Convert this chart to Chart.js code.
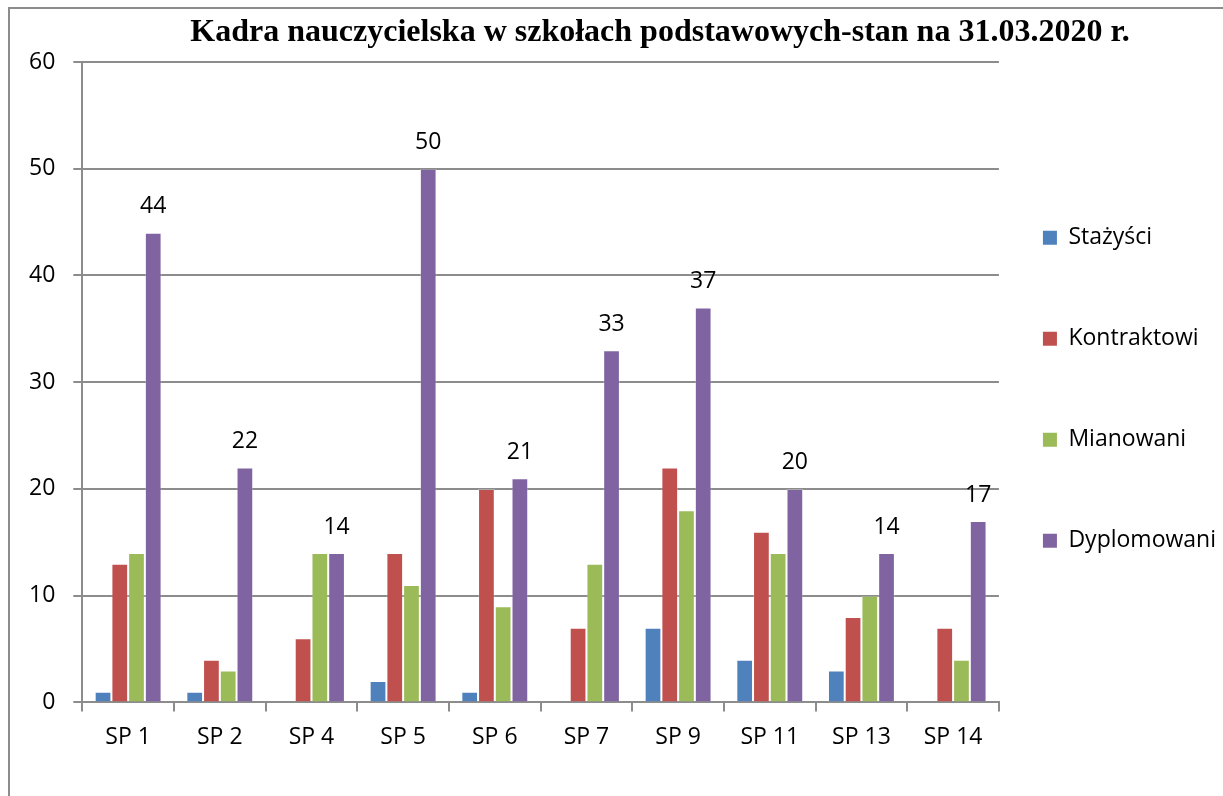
<!DOCTYPE html>
<html>
<head>
<meta charset="utf-8">
<script src="https://cdn.jsdelivr.net/npm/chart.js@4"></script>
<style>
    body { margin: 0; background: #fff; overflow: hidden; }
    #frame { position: absolute; left: 8px; top: 7px; width: 1400px; height: 900px; border: 2px solid #8c8c8c; }
    #wrap { position: absolute; left: 0; top: 0; width: 1223px; height: 796px; }
</style>
</head>
<body>
<div id="frame"></div>
<div id="wrap"><canvas id="teacherChart"></canvas></div>
<script>
const schools = ['SP 1', 'SP 2', 'SP 4', 'SP 5', 'SP 6', 'SP 7', 'SP 9', 'SP 11', 'SP 13', 'SP 14'];
const stazysci = [1, 1, 0, 2, 1, 0, 7, 4, 3, 0];
const kontraktowi = [13, 4, 6, 14, 20, 7, 22, 16, 8, 7];
const mianowani = [14, 3, 14, 11, 9, 13, 18, 14, 10, 4];
const dyplomowani = [44, 22, 14, 50, 21, 33, 37, 20, 14, 17];
const yTicks = [0, 10, 20, 30, 40, 50, 60];

const titleText = 'Kadra nauczycielska w szkołach podstawowych-stan na 31.03.2020 r.';
const gridColor = '#8c8c8c';
const font = 'Open Sans';

// title drawn by hand so it can sit off-centre like the original
const titlePlugin = {
    id: 'titlePlugin',
    afterDraw(chart) {
        const c = chart.ctx;
        c.save();
        c.font = 'bold 32px "Liberation Serif"';
        c.fillStyle = '#000';
        c.textAlign = 'center';
        c.textBaseline = 'middle';
        c.fillText(titleText, 660, 33);
        c.restore();
    }
};

// value labels only above the Dyplomowani bars
const valueLabels = {
    id: 'valueLabels',
    afterDatasetsDraw(chart) {
        const c = chart.ctx;
        const meta = chart.getDatasetMeta(3);
        c.save();
        c.font = '23px "' + font + '"';
        c.fillStyle = '#000';
        c.textAlign = 'center';
        c.textBaseline = 'middle';
        meta.data.forEach((bar, i) => {
            c.fillText(dyplomowani[i], bar.x, bar.y - 26);
        });
        c.restore();
    }
};

const ctx = document.getElementById('teacherChart').getContext('2d');
const myChart = new Chart(ctx, {
    type: 'bar',
    data: {
        labels: schools,
        datasets: [
            { label: 'Stażyści', data: stazysci, backgroundColor: '#4f81bd' },
            { label: 'Kontraktowi', data: kontraktowi, backgroundColor: '#c0504d' },
            { label: 'Mianowani', data: mianowani, backgroundColor: '#9bbb59' },
            { label: 'Dyplomowani', data: dyplomowani, backgroundColor: '#8064a2' }
        ]
    },
    options: {
        responsive: true,
        maintainAspectRatio: false,
        animation: false,
        datasets: {
            bar: {
                categoryPercentage: 0.73,
                barPercentage: 1.0,
                borderWidth: 1,
                borderColor: 'rgba(255, 255, 255, 0.25)'
            }
        },
        layout: {
            padding: { top: 62, left: 11, right: -3, bottom: 33 }
        },
        scales: {
            x: {
                grid: { drawOnChartArea: false, color: gridColor, lineWidth: 2, tickLength: 9 },
                border: { color: gridColor, width: 2 },
                ticks: { color: '#000', font: { family: font, size: 23 }, padding: 12 }
            },
            y: {
                min: 0,
                max: 60,
                afterBuildTicks: (axis) => { axis.ticks = yTicks.map(v => ({ value: v })); },
                grid: { color: gridColor, lineWidth: 2, tickLength: 9 },
                border: { color: gridColor, width: 2 },
                ticks: { color: '#000', font: { family: font, size: 23 }, padding: 18 }
            }
        },
        plugins: {
            title: { display: false },
            tooltip: { enabled: false },
            legend: {
                position: 'right',
                fullSize: false,
                // empty title only pushes the items down
                title: { display: true, text: '', padding: 0, font: { size: 20, lineHeight: '48px' } },
                labels: {
                    color: '#000',
                    boxWidth: 14,
                    boxHeight: 14,
                    padding: 44,
                    font: { family: font, size: 23, lineHeight: '57px' },
                    // text as an array so the font lineHeight sets the row spacing
                    generateLabels: (chart) => {
                        const items = Chart.defaults.plugins.legend.labels.generateLabels(chart);
                        return items.map(item => Object.assign(item, { text: [item.text], lineWidth: 0 }));
                    }
                }
            }
        }
    },
    plugins: [titlePlugin, valueLabels]
});
</script>
</body>
</html>
